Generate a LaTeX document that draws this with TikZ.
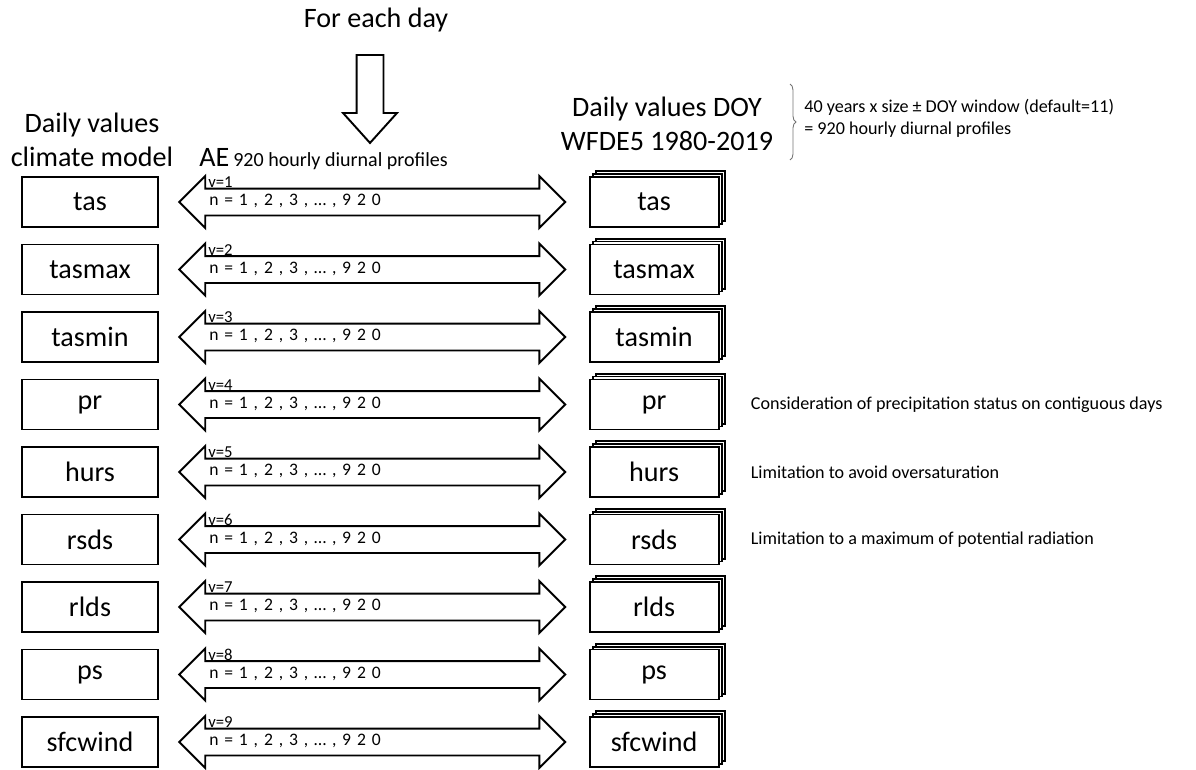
\documentclass[tikz,border=0pt]{standalone}
\usepackage{fontspec}
\setmainfont{Carlito}
\usetikzlibrary{positioning,calc,shapes.arrows,shadows,decorations.pathreplacing}
\tikzset{
  varbox/.style={draw=black, line width=1.1pt, fill=white, minimum width=2.72cm, minimum height=1.0cm, inner sep=0pt, font=\fontsize{16}{19}\selectfont},
  wfdbox/.style={varbox, minimum width=2.58cm, double copy shadow={shadow xshift=1.7pt, shadow yshift=1.7pt, draw=black, line width=1.1pt, fill=white}},
  linkarrow/.style={double arrow, draw=black, line width=1.1pt, fill=white, double arrow head extend=0.25cm, double arrow tip angle=90, minimum height=7.72cm, minimum width=0pt, inner xsep=0pt, inner ysep=1.2mm, text width=6.52cm, align=left, text height=2mm, text depth=0.6mm, font=\fontsize{10}{12}\selectfont},
  vlbl/.style={font=\fontsize{9.5}{11}\selectfont, inner sep=0pt, anchor=base west},
  note/.style={font=\fontsize{10.3}{12.5}\selectfont, anchor=west, inner sep=0pt, align=left},
  title/.style={font=\fontsize{16}{19.3}\selectfont, align=center, inner sep=0pt}
}

\begin{document}
\begin{tikzpicture}[x=0.02cm, y=-0.02cm]
\useasboundingbox (0,0) rectangle (1196,769);
% headers
\node[title] (eachday) at (376,20) {For each day};
\node[single arrow, draw=black, line width=1.1pt, fill=white, rotate=-90, anchor=tail, minimum height=1.76cm, inner xsep=0pt, inner ysep=0.25cm, single arrow head extend=0.27cm, single arrow tip angle=84] (down) at (370,54) {};
\node[title] (mtitle) at (92,140) {Daily values\\climate model};
\node[anchor=base west, inner sep=0pt] (aetitle) at (199,166) {{\fontsize{16}{19}\selectfont AE} {\fontsize{11.4}{14}\selectfont 920 hourly diurnal profiles}};
\node[title] (wtitle) at (667,124) {Daily values DOY\\WFDE5 1980-2019};
% window brace
\coordinate (bratop) at (790,84);
\coordinate (brabot) at (790,160);
\draw[decorate, decoration={brace, amplitude=3.4pt}, black!55, line width=0.5pt] (bratop) -- (brabot);
\node[note, anchor=north west] (window) at (804,99) {40 years x size ± DOY window (default=11)\\= 920 hourly diurnal profiles};
% row 1
\node[varbox] (mtas) at (90,202) {tas};
\node[linkarrow, right=0.38cm of mtas] (atas) {n = 1 , 2 , 3 , … , 9 2 0};
\node[wfdbox, right=0.44cm of atas] (wtas) {tas};
\node[vlbl] (vtas) at ($(atas.west)+(30,-14.5)$) {v=1};
% row 2
\node[varbox] (mtasmax) at (90,269.5) {tasmax};
\node[linkarrow, right=0.38cm of mtasmax] (atasmax) {n = 1 , 2 , 3 , … , 9 2 0};
\node[wfdbox, right=0.44cm of atasmax] (wtasmax) {tasmax};
\node[vlbl] (vtasmax) at ($(atasmax.west)+(30,-14.5)$) {v=2};
% row 3
\node[varbox] (mtasmin) at (90,337) {tasmin};
\node[linkarrow, right=0.38cm of mtasmin] (atasmin) {n = 1 , 2 , 3 , … , 9 2 0};
\node[wfdbox, right=0.44cm of atasmin] (wtasmin) {tasmin};
\node[vlbl] (vtasmin) at ($(atasmin.west)+(30,-14.5)$) {v=3};
% row 4
\node[varbox] (mpr) at (90,404.5) {pr};
\node[linkarrow, right=0.38cm of mpr] (apr) {n = 1 , 2 , 3 , … , 9 2 0};
\node[wfdbox, right=0.44cm of apr] (wpr) {pr};
\node[vlbl] (vpr) at ($(apr.west)+(30,-14.5)$) {v=4};
\node[note, right=0.62cm of wpr] (notepr) {Consideration of precipitation status on contiguous days};
% row 5
\node[varbox] (mhurs) at (90,472) {hurs};
\node[linkarrow, right=0.38cm of mhurs] (ahurs) {n = 1 , 2 , 3 , … , 9 2 0};
\node[wfdbox, right=0.44cm of ahurs] (whurs) {hurs};
\node[vlbl] (vhurs) at ($(ahurs.west)+(30,-14.5)$) {v=5};
\node[note, right=0.62cm of whurs] (notehurs) {Limitation to avoid oversaturation};
% row 6
\node[varbox] (mrsds) at (90,539.5) {rsds};
\node[linkarrow, right=0.38cm of mrsds] (arsds) {n = 1 , 2 , 3 , … , 9 2 0};
\node[wfdbox, right=0.44cm of arsds] (wrsds) {rsds};
\node[vlbl] (vrsds) at ($(arsds.west)+(30,-14.5)$) {v=6};
\node[note, right=0.62cm of wrsds] (notersds) {Limitation to a maximum of potential radiation};
% row 7
\node[varbox] (mrlds) at (90,607) {rlds};
\node[linkarrow, right=0.38cm of mrlds] (arlds) {n = 1 , 2 , 3 , … , 9 2 0};
\node[wfdbox, right=0.44cm of arlds] (wrlds) {rlds};
\node[vlbl] (vrlds) at ($(arlds.west)+(30,-14.5)$) {v=7};
% row 8
\node[varbox] (mps) at (90,674.5) {ps};
\node[linkarrow, right=0.38cm of mps] (aps) {n = 1 , 2 , 3 , … , 9 2 0};
\node[wfdbox, right=0.44cm of aps] (wps) {ps};
\node[vlbl] (vps) at ($(aps.west)+(30,-14.5)$) {v=8};
% row 9
\node[varbox] (msfcwind) at (90,742) {sfcwind};
\node[linkarrow, right=0.38cm of msfcwind] (asfcwind) {n = 1 , 2 , 3 , … , 9 2 0};
\node[wfdbox, right=0.44cm of asfcwind] (wsfcwind) {sfcwind};
\node[vlbl] (vsfcwind) at ($(asfcwind.west)+(30,-14.5)$) {v=9};
\end{tikzpicture}
\end{document}
